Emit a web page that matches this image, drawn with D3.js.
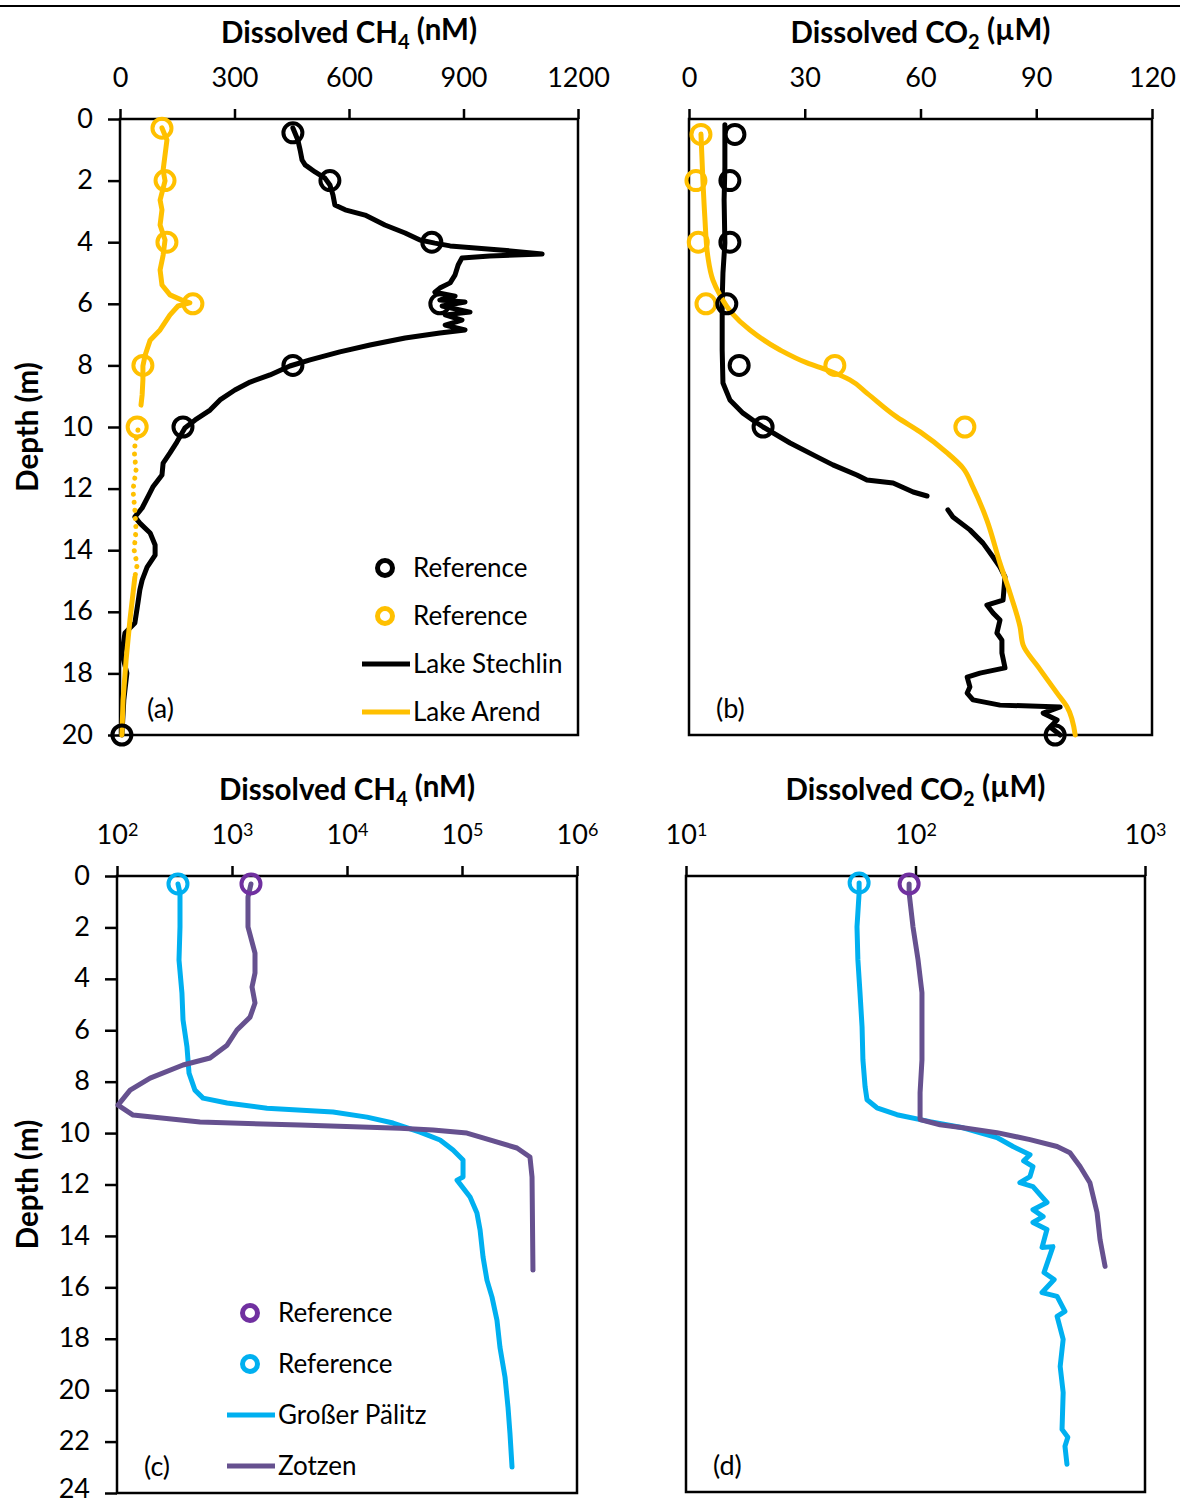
<!DOCTYPE html>
<html lang="en">
<head>
<meta charset="UTF-8">
<title>Dissolved CH4 and CO2 profiles</title>
<script src="https://cdnjs.cloudflare.com/ajax/libs/d3/7.8.5/d3.min.js"></script>
<style>
    body { margin: 0; background: #fff; }
    svg text { font-family: Lato, "Open Sans", sans-serif; fill: #000; }
    .tick text { font-size: 27px; }
    .axis path { display: none; }
    .axis line { stroke: #000; stroke-width: 2.5px; }
    .frame { fill: none; stroke: #000; stroke-width: 2.5px; }
    .title { font-weight: bold; font-size: 29.5px; }
    .profile { fill: none; stroke-width: 5px; stroke-linejoin: round; stroke-linecap: round; }
    .ref { fill: none; stroke-width: 4px; }
    .legend text { font-size: 26px; }
    .panel-label { font-size: 27px; }
</style>
</head>
<body>
<div id="chart"></div>
<script>
// ---- tick values ----
var depthTicks20 = [0, 2, 4, 6, 8, 10, 12, 14, 16, 18, 20];
var depthTicks24 = [0, 2, 4, 6, 8, 10, 12, 14, 16, 18, 20, 22, 24];
var ch4TicksLin = [0, 300, 600, 900, 1200];
var co2TicksLin = [0, 30, 60, 90, 120];
var ch4TicksLog = [1e2, 1e3, 1e4, 1e5, 1e6];
var co2TicksLog = [1e1, 1e2, 1e3];

// ---- series: [depth (m), concentration] ----
// (a) CH4, nM
var stechlinCH4 = [[0.29,453],[0.68,466],[1.01,472],[1.33,477],[1.49,485],[1.72,511],[1.92,537],[2.14,550],[2.47,558],[2.79,563],[2.95,590],[3.12,642],[3.44,694],[3.70,747],[3.93,786],[4.03,825],[4.12,865],[4.25,996],[4.38,1106],[4.45,969],[4.51,896],[4.74,886],[5.06,878],[5.32,865],[5.49,838],[5.62,825],[5.75,878],[5.88,838],[5.94,904],[6.07,844],[6.27,917],[6.36,852],[6.53,896],[6.69,852],[6.85,904],[6.95,838],[7.11,747],[7.34,655],[7.56,576],[7.82,498],[8.02,445],[8.31,393],[8.54,341],[8.80,301],[9.12,262],[9.45,236],[9.77,197],[10.03,170],[10.49,149],[10.84,131],[11.17,113],[11.56,110],[11.95,86],[12.27,73],[12.63,58],[12.92,39],[13.12,52],[13.44,79],[13.83,92],[14.16,92],[14.55,71],[14.97,58],[15.29,52],[15.71,47],[16.36,39],[16.69,13],[17.34,5],[17.99,18],[18.86,10],[20.0,5]];
var arendCH4Upper = [[0.29,110],[0.68,123],[1.17,118],[1.66,113],[2.01,118],[2.63,105],[2.95,110],[3.44,105],[3.93,118],[4.42,113],[4.90,105],[5.39,110],[5.71,131],[5.88,162],[5.97,183],[6.07,152],[6.36,131],[6.85,105],[7.18,79],[7.66,66],[8.02,60],[8.47,60],[8.96,58],[9.29,55]];
var arendCH4Sparse = [[10.1,47],[10.75,37],[11.4,42],[12.05,34],[12.7,39],[13.34,42],[13.99,37],[14.48,45],[14.87,39]];
var arendCH4Lower = [[14.87,39],[16.27,26],[17.56,16],[18.86,8],[20.0,5]];
var stechlinRefCH4 = [[0.45,453],[2.0,550],[4.0,817],[6.0,838],[8.0,453],[10.0,165],[20.0,5]];
var arendRefCH4 = [[0.3,110],[2.0,118],[4.0,123],[6.0,191],[8.0,60],[10.0,45]];

// (b) CO2, uM
var stechlinCO2 = [[0.19,9.3],[1.56,9.3],[2.63,9.1],[4.03,9.3],[5.0,8.8],[5.88,8.6],[6.75,8.6],[7.50,8.6],[8.57,8.8],[9.12,10.6],[9.55,14.0],[9.87,17.6],[10.0,19.2],[10.52,26.2],[10.97,33.2],[11.23,37.3],[11.56,43.5],[11.72,46.1],[11.82,52.9],[12.11,58.1],[12.24,61.7],null,[12.69,67.1],[12.92,68.4],[13.34,72.8],[13.77,76.2],[14.22,78.8],[14.55,80.6],[14.87,81.9],[15.62,81.4],[15.78,77.2],[16.04,78.8],[16.27,80.6],[16.69,79.8],[16.92,81.1],[17.34,81.1],[17.82,81.9],[17.99,75.4],[18.12,72.1],[18.44,72.8],[18.64,72.1],[18.86,73.6],[19.03,80.6],[19.09,96.2],[19.29,91.8],[19.51,95.4],[19.74,93.6],[20.0,96.2]];
var arendCO2 = [[0.49,3.1],[1.98,3.6],[3.18,4.1],[4.48,4.9],[5.23,6.2],[5.71,8.0],[6.30,11.1],[6.85,15.8],[7.50,23.6],[7.92,30.6],[8.15,35.8],[8.47,41.7],[8.90,46.1],[9.68,53.9],[10.16,59.9],[10.84,66.9],[11.33,71.0],[11.95,73.6],[13.02,77.2],[14.42,80.6],[15.39,83.2],[16.49,85.8],[17.08,86.6],[17.79,90.5],[18.64,95.4],[19.09,98.0],[20.0,100.1]];
var stechlinRefCO2 = [[0.5,11.9],[2.0,10.6],[4.0,10.6],[6.0,9.8],[8.0,13.0],[10.0,19.2],[20.0,94.9]];
var arendRefCO2 = [[0.5,3.1],[2.0,1.8],[4.0,2.4],[6.0,4.4],[8.0,37.8],[10.0,71.5]];

// (c) CH4, nM (log)
var palitzCH4 = [[0.31,339],[0.66,353],[1.98,353],[3.27,346],[4.55,367],[5.60,375],[6.65,406],[7.67,423],[8.33,476],[8.64,560],[8.83,906],[9.03,2014],[9.18,7551],[9.38,14930],[9.61,25120],[9.96,43150],[10.27,64420],[10.66,83560],[11.05,102100],[11.71,102100],[11.83,90570],[12.49,117500],[13.11,134900],[13.77,143600],[14.82,152400],[15.72,164800],[16.38,182400],[17.28,201400],[18.33,213800],[19.49,236600],[20.66,251200],[21.67,261200],[22.99,272300]];
var zotzenCH4 = [[0.31,1462],[0.82,1377],[1.98,1377],[3.00,1585],[3.77,1585],[4.32,1493],[4.94,1585],[5.49,1435],[5.99,1104],[6.58,906],[7.08,644],[7.35,375],[7.86,194],[8.33,130],[8.91,102],[9.30,138],[9.57,527],[9.69,3899],[9.81,28910],[9.88,55980],[10.00,110400],[10.19,152400],[10.58,300600],[10.93,389900],[11.71,406400],[15.33,414000]];
var palitzRefCH4 = [[0.31,339]];
var zotzenRefCH4 = [[0.31,1462]];

// (d) CO2, uM (log)
var palitzCO2 = [[0.27,56.8],[0.66,56.8],[1.98,55.6],[3.27,56.1],[4.55,57.3],[5.88,58.5],[7.16,59.0],[8.21,60.3],[8.72,61.5],[9.03,67.9],[9.30,83.0],[9.57,115.6],[9.81,161.1],[10.19,226.5],[10.54,266.1],[10.86,315.5],[11.10,296],[11.32,325],[11.71,315.5],[11.95,285],[12.10,325],[12.72,374],[13.0,325],[13.27,360],[13.50,325],[13.77,374],[14.47,356],[14.44,397],[15.45,363],[15.72,402],[16.23,356],[16.38,414],[16.96,448],[17.16,414],[18.05,440],[19.11,427],[20.12,440],[21.56,435],[21.87,461],[22.22,448],[22.92,457]];
var zotzenCO2 = [[0.31,93.8],[0.66,93.8],[1.98,97.5],[3.27,102.6],[4.55,106.7],[5.88,106.7],[7.16,106.7],[8.44,104.7],[9.49,104.7],[9.69,127.9],[9.81,161.1],[10.00,226.5],[10.27,315.5],[10.54,414.0],[10.78,470.9],[11.32,521.2],[11.95,575.4],[13.11,618.0],[14.16,636.8],[15.21,669.9]];
var palitzRefCO2 = [[0.27,56.8]];
var zotzenRefCO2 = [[0.31,93.8]];

var BLACK = '#000000', GOLD = '#FFC000', CYAN = '#00B0F0', PURPLE = '#66518F', PURPLE_REF = '#7030A0';

var panels = [
    { label: '(a)', box: { left: 120, top: 119, right: 578, bottom: 735 },
      log: false, xDomain: [0, 1200], xTicks: ch4TicksLin, yDomain: [0, 20], yTicks: depthTicks20,
      title: ['Dissolved CH', '4', ' (nM)'],
      lines: [ { data: stechlinCH4, color: BLACK },
               { data: arendCH4Upper, color: GOLD },
               { data: arendCH4Sparse, color: GOLD, dash: '0.1 8' },
               { data: arendCH4Lower, color: GOLD } ],
      refs: [ { data: arendRefCH4, color: GOLD }, { data: stechlinRefCH4, color: BLACK } ],
      legend: { x: 385, y: 568, step: 48, items: [
          { type: 'circle', color: BLACK, text: 'Reference' },
          { type: 'circle', color: GOLD, text: 'Reference' },
          { type: 'line', color: BLACK, text: 'Lake Stechlin' },
          { type: 'line', color: GOLD, text: 'Lake Arend' } ] } },
    { label: '(b)', box: { left: 689, top: 119, right: 1152, bottom: 735 },
      log: false, xDomain: [0, 120], xTicks: co2TicksLin, yDomain: [0, 20], yTicks: null,
      title: ['Dissolved CO', '2', ' (\u00b5M)'],
      lines: [ { data: stechlinCO2, color: BLACK },
               { data: arendCO2, color: GOLD, smooth: true } ],
      refs: [ { data: arendRefCO2, color: GOLD }, { data: stechlinRefCO2, color: BLACK } ] },
    { label: '(c)', box: { left: 117, top: 876, right: 577, bottom: 1493 },
      log: true, xDomain: [1e2, 1e6], xTicks: ch4TicksLog, yDomain: [0, 24], yTicks: depthTicks24,
      title: ['Dissolved CH', '4', ' (nM)'],
      lines: [ { data: palitzCH4, color: CYAN }, { data: zotzenCH4, color: PURPLE } ],
      refs: [ { data: palitzRefCH4, color: CYAN }, { data: zotzenRefCH4, color: PURPLE_REF } ],
      legend: { x: 250, y: 1313, step: 51, items: [
          { type: 'circle', color: PURPLE_REF, text: 'Reference' },
          { type: 'circle', color: CYAN, text: 'Reference' },
          { type: 'line', color: CYAN, text: 'Gro\u00dfer P\u00e4litz' },
          { type: 'line', color: PURPLE, text: 'Zotzen' } ] } },
    { label: '(d)', box: { left: 686, top: 876, right: 1145, bottom: 1492 },
      log: true, xDomain: [1e1, 1e3], xTicks: co2TicksLog, yDomain: [0, 24], yTicks: null,
      title: ['Dissolved CO', '2', ' (\u00b5M)'],
      lines: [ { data: palitzCO2, color: CYAN }, { data: zotzenCO2, color: PURPLE } ],
      refs: [ { data: palitzRefCO2, color: CYAN }, { data: zotzenRefCO2, color: PURPLE_REF } ] }
];

var svg = d3.select('#chart').append('svg')
    .attr('width', 1180).attr('height', 1504)
    .attr('viewBox', '0 0 1180 1504');

// rule along the top edge
svg.append('line').attr('x1', 0).attr('x2', 1180).attr('y1', 6).attr('y2', 6)
    .attr('stroke', '#000').attr('stroke-width', 2);

function drawPanel(p) {
    var b = p.box;
    var g = svg.append('g');
    var x = (p.log ? d3.scaleLog() : d3.scaleLinear()).domain(p.xDomain).range([b.left, b.right]);
    var y = d3.scaleLinear().domain(p.yDomain).range([b.top, b.bottom]);

    g.append('rect').attr('class', 'frame')
        .attr('x', b.left).attr('y', b.top)
        .attr('width', b.right - b.left).attr('height', b.bottom - b.top);

    var xAxis = d3.axisTop(x).tickValues(p.xTicks).tickSizeInner(10).tickSizeOuter(0).tickPadding(22);
    xAxis.tickFormat(p.log ? function() { return '10'; } : d3.format('d'));
    var gx = g.append('g').attr('class', 'axis')
        .attr('transform', 'translate(0,' + b.top + ')').call(xAxis);
    gx.selectAll('.tick text').attr('font-family', null).attr('font-size', null);
    if (p.log) {
        gx.selectAll('.tick text').append('tspan')
            .attr('dy', '-0.42em').style('font-size', '18px')
            .text(function(d) { return Math.round(Math.log10(d)); });
    }

    if (p.yTicks) {
        var last = p.yTicks[p.yTicks.length - 1];
        var yAxis = d3.axisLeft(y).tickValues(p.yTicks).tickSizeInner(12).tickSizeOuter(0).tickPadding(15);
        var gy = g.append('g').attr('class', 'axis')
            .attr('transform', 'translate(' + b.left + ',0)').call(yAxis);
        gy.selectAll('.tick text').attr('font-family', null).attr('font-size', null)
            .attr('dy', function(d) { return d === last && b.bottom > 1400 ? '0.18em' : '0.3em'; });

        svg.append('text').attr('class', 'title')
            .attr('transform', 'translate(38,' + ((b.top + b.bottom) / 2) + ') rotate(-90)')
            .attr('text-anchor', 'middle')
            .text('Depth (m)');
    }

    var t = svg.append('text').attr('class', 'title')
        .attr('x', (b.left + b.right) / 2).attr('y', b.top - 76)
        .attr('text-anchor', 'middle');
    t.append('tspan').text(p.title[0]);
    t.append('tspan').attr('dy', '0.28em').style('font-size', '20px').text(p.title[1]);
    t.append('tspan').attr('dy', '-0.28em').text(p.title[2]);

    p.lines.forEach(function(s) {
        var line = d3.line()
            .defined(function(d) { return d !== null; })
            .curve(s.smooth ? d3.curveMonotoneY : d3.curveLinear)
            .x(function(d) { return x(d[1]); })
            .y(function(d) { return y(d[0]); });
        g.append('path').datum(s.data)
            .attr('class', 'profile')
            .attr('stroke', s.color)
            .attr('stroke-width', s.dash ? 5.5 : null)
            .attr('stroke-dasharray', s.dash || null)
            .attr('d', line);
    });

    p.refs.forEach(function(s) {
        g.selectAll(null).data(s.data).enter().append('circle')
            .attr('class', 'ref')
            .attr('stroke', s.color)
            .attr('cx', function(d) { return x(d[1]); })
            .attr('cy', function(d) { return y(d[0]); })
            .attr('r', 9.5);
    });

    g.append('text').attr('class', 'panel-label')
        .attr('x', b.left + 27).attr('y', b.bottom - 17)
        .text(p.label);

    if (p.legend) {
        var lg = g.append('g').attr('class', 'legend');
        p.legend.items.forEach(function(it, i) {
            var cy = p.legend.y + i * p.legend.step;
            if (it.type === 'circle') {
                lg.append('circle').attr('cx', p.legend.x).attr('cy', cy).attr('r', 7.5)
                    .attr('fill', 'none').attr('stroke', it.color).attr('stroke-width', 5);
            } else {
                lg.append('line').attr('x1', p.legend.x - 23).attr('x2', p.legend.x + 25)
                    .attr('y1', cy).attr('y2', cy)
                    .attr('stroke', it.color).attr('stroke-width', 5);
            }
            lg.append('text').attr('x', p.legend.x + 28).attr('y', cy).attr('dy', '0.35em')
                .text(it.text);
        });
    }
}

panels.forEach(drawPanel);
</script>
</body>
</html>
